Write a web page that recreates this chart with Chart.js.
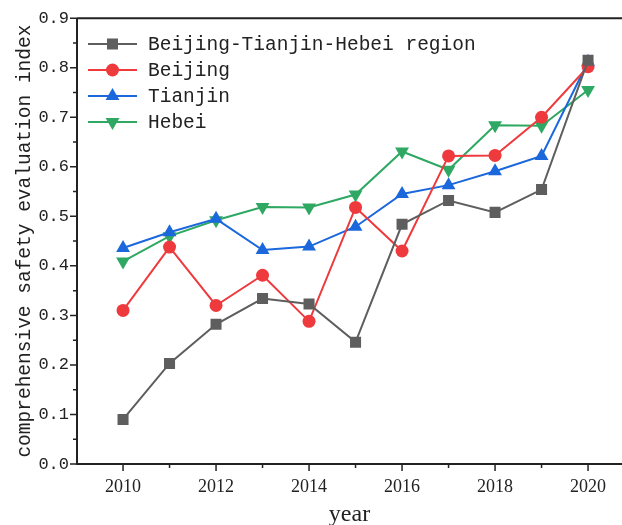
<!DOCTYPE html>
<html>
<head>
<meta charset="utf-8">
<script src="https://cdn.jsdelivr.net/npm/chart.js@4"></script>
<style>
    html, body { margin: 0; padding: 0; background: #fff; overflow: hidden; }
    #wrap { width: 622px; height: 525px; }
</style>
</head>
<body>
<div id="wrap"><canvas id="chart"></canvas></div>
<script>
// =========================================
// Data
// =========================================

const years = [2010, 2011, 2012, 2013, 2014, 2015, 2016, 2017, 2018, 2019, 2020];

const regionValues  = [0.090, 0.203, 0.282, 0.334, 0.323, 0.246, 0.484, 0.532, 0.508, 0.554, 0.815];
const beijingValues = [0.310, 0.438, 0.320, 0.381, 0.288, 0.518, 0.430, 0.622, 0.623, 0.700, 0.802];
const tianjinValues = [0.436, 0.468, 0.495, 0.432, 0.439, 0.479, 0.545, 0.563, 0.591, 0.622, 0.812];
const hebeiValues   = [0.409, 0.460, 0.492, 0.519, 0.518, 0.544, 0.631, 0.594, 0.684, 0.683, 0.755];

const seriesNames = ["Beijing-Tianjin-Hebei region", "Beijing", "Tianjin", "Hebei"];

const xTicks = [2010, 2012, 2014, 2016, 2018, 2020];
const yTicks = [0.0, 0.1, 0.2, 0.3, 0.4, 0.5, 0.6, 0.7, 0.8, 0.9];

const monoFont = "'Liberation Mono', monospace";
const serifFont = "'Liberation Serif', serif";

function toPoints(values) {
    return values.map((v, i) => ({ x: years[i], y: v }));
}

// =========================================
// Axis ticks + frame + legend
// =========================================

const decorPlugin = {
    id: "decor",
    afterDraw(chart) {
        const ctx = chart.ctx;
        const area = chart.chartArea;
        const xs = chart.scales.x;
        const ys = chart.scales.y;

        ctx.save();
        ctx.strokeStyle = "#222";
        ctx.lineWidth = 2;

        // frame: left, bottom, top
        ctx.beginPath();
        ctx.moveTo(area.left, area.top);
        ctx.lineTo(area.left, area.bottom);
        ctx.lineTo(area.right, area.bottom);
        ctx.moveTo(area.left, area.top);
        ctx.lineTo(area.right, area.top);
        ctx.stroke();

        // x ticks
        ctx.lineWidth = 1.5;
        ctx.beginPath();
        for (let yr = 2010; yr <= 2020; yr++) {
            const px = xs.getPixelForValue(yr);
            const len = (yr % 2 === 0) ? 7 : 4;
            ctx.moveTo(px, area.bottom);
            ctx.lineTo(px, area.bottom + len);
        }
        // y ticks
        for (let k = 0; k <= 18; k++) {
            const py = ys.getPixelForValue(k * 0.05);
            const len = (k % 2 === 0) ? 7 : 4;
            ctx.moveTo(area.left, py);
            ctx.lineTo(area.left - len, py);
        }
        ctx.stroke();

        // legend
        const lx = 88;
        let ly = 44;
        chart.data.datasets.forEach(ds => {
            ctx.strokeStyle = ds.borderColor;
            ctx.lineWidth = 2;
            ctx.beginPath();
            ctx.moveTo(lx, ly);
            ctx.lineTo(lx + 49, ly);
            ctx.stroke();
            ctx.fillStyle = ds.backgroundColor;
            Chart.helpers.drawPoint(ctx, {
                pointStyle: ds.pointStyle,
                radius: ds.pointRadius,
                rotation: ds.pointRotation || 0,
                borderWidth: 0
            }, lx + 24.5, ly);

            ctx.fillStyle = "#222";
            ctx.font = "19.5px " + monoFont;
            ctx.textBaseline = "middle";
            ctx.textAlign = "left";
            ctx.fillText(ds.label, 148, ly + 1);
            ly += 26;
        });

        ctx.restore();
    }
};

// =========================================
// Chart
// =========================================

function makeSet(label, values, color, style, radius, rotation) {
    return {
        label: label,
        data: toPoints(values),
        borderColor: color,
        backgroundColor: color,
        borderWidth: 2,
        pointStyle: style,
        pointRadius: radius,
        pointRotation: rotation,
        pointBorderWidth: 0,
        pointHoverRadius: radius,
        tension: 0
    };
}

new Chart(document.getElementById("chart"), {

    type: "line",

    data: {
        datasets: [
            makeSet(seriesNames[0], regionValues, "#5e5e5e", "rect", 7.8, 0),
            makeSet(seriesNames[1], beijingValues, "#ee3a3c", "circle", 6.5, 0),
            makeSet(seriesNames[2], tianjinValues, "#1b67dc", "triangle", 8, 0),
            makeSet(seriesNames[3], hebeiValues, "#2ea862", "triangle", 8, 180)
        ]
    },

    options: {
        responsive: true,
        maintainAspectRatio: false,
        animation: false,
        layout: {
            autoPadding: false,
            padding: { top: 15, right: 0, left: 0, bottom: 0 }
        },
        plugins: {
            legend: { display: false },
            tooltip: { enabled: false }
        },
        scales: {
            x: {
                type: "linear",
                min: 2009.01,
                max: 2020.73,
                afterFit(scale) {
                    scale.height = 61;
                },
                afterBuildTicks(scale) {
                    scale.ticks = xTicks.map(v => ({ value: v }));
                },
                grid: { display: false, drawTicks: false },
                border: { display: false },
                ticks: {
                    padding: 12,
                    color: "#222",
                    font: { family: serifFont, size: 18 },
                    callback: v => String(v)
                },
                title: {
                    display: true,
                    text: "year",
                    color: "#222",
                    font: { family: serifFont, size: 24 },
                    padding: { top: 0, bottom: -4 }
                }
            },
            y: {
                min: 0,
                max: 0.9,
                afterFit(scale) {
                    scale.width = 77;
                },
                afterBuildTicks(scale) {
                    scale.ticks = yTicks.map(v => ({ value: v }));
                },
                grid: { display: false, drawTicks: false },
                border: { display: false },
                ticks: {
                    padding: 8,
                    color: "#222",
                    font: { family: monoFont, size: 17 },
                    callback: v => v.toFixed(1)
                },
                title: {
                    display: true,
                    text: "comprehensive safety evaluation index",
                    color: "#222",
                    font: { family: monoFont, size: 19.5 },
                    padding: { top: 13, bottom: 0 }
                }
            }
        }
    },

    plugins: [decorPlugin]

});
</script>
</body>
</html>
